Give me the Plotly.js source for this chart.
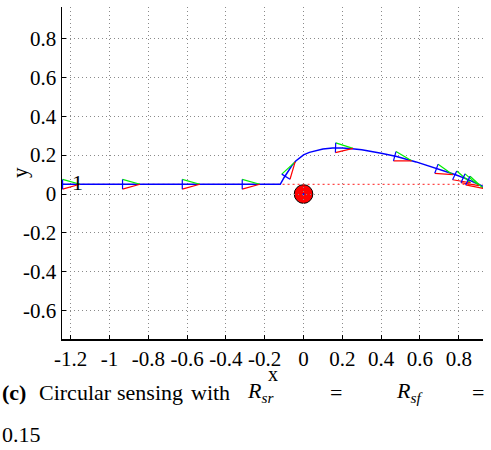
<!DOCTYPE html>
<html>
<head>
<meta charset="utf-8">
<script src="https://cdn.plot.ly/plotly-3.0.1.min.js"></script>
<style>html,body{margin:0;padding:0;background:#fff;}#chart{width:491px;height:450px;}</style>
</head>
<body>
<div id="chart"></div>
<script>
// Path of the vehicle
var pathX = [-1.242, -0.12, -0.10, -0.08, -0.06, -0.04, -0.02, 0.0, 0.03, 0.06, 0.10, 0.15, 0.20, 0.25, 0.30, 0.40, 0.48, 0.58, 0.685, 0.78, 0.84, 0.925];
var pathY = [0.05, 0.05, 0.085, 0.118, 0.146, 0.170, 0.188, 0.201, 0.214, 0.223, 0.231, 0.236, 0.237, 0.233, 0.227, 0.210, 0.193, 0.165, 0.132, 0.100, 0.078, 0.04];
// Reference line
var refX = [-1.242, 0.925];
var refY = [0.05, 0.05];
// Poses (triangles)
var poseX = [-1.242, -0.933, -0.625, -0.316, -0.091, 0.165, 0.470, 0.685, 0.779, 0.822, 0.847];
var poseY = [0.05, 0.05, 0.05, 0.05, 0.089, 0.238, 0.194, 0.130, 0.096, 0.081, 0.069];
var poseTheta = [0, 0, 0, 0, 58, -2, -15, -20, -25, -25, -27];
// Obstacle
var obsX = [0];
var obsY = [0];
var obsR = [0.048];
// Label
var labelX = [-1.165];
var labelY = [0.05];
var labelText = ['1'];
// Ticks
var xTicks = [-1.2, -1, -0.8, -0.6, -0.4, -0.2, 0, 0.2, 0.4, 0.6, 0.8];
var xTickText = ['-1.2', '-1', '-0.8', '-0.6', '-0.4', '-0.2', '0', '0.2', '0.4', '0.6', '0.8'];
var yTicks = [-0.6, -0.4, -0.2, 0, 0.2, 0.4, 0.6, 0.8];
var yTickText = ['-0.6', '-0.4', '-0.2', '0', '0.2', '0.4', '0.6', '0.8'];
// Caption pieces
var capLine1 = ['<b>(c)</b>', 'Circular', 'sensing', 'with', '<i>R</i><sub><i>sr</i></sub>', '=', '<i>R</i><sub><i>sf</i></sub>', '='];
var capLine1Px = [0, 37, 115, 189, 245, 328, 394, 470];
var capLine2 = ['0.15'];

var HW = 0.025, LEN = 0.09;
var bx = [], by = [], gx = [], gy = [], rx = [], ry = [];
for (var i = 0; i < poseX.length; i++) {
  var t = poseTheta[i] * Math.PI / 180;
  var cx = poseX[i], cy = poseY[i];
  var nx = -Math.sin(t), ny = Math.cos(t);
  var topX = cx + HW * nx, topY = cy + HW * ny;
  var botX = cx - HW * nx, botY = cy - HW * ny;
  var tipX = cx + LEN * Math.cos(t), tipY = cy + LEN * Math.sin(t);
  bx.push(topX, botX, null); by.push(topY, botY, null);
  gx.push(topX, tipX, null); gy.push(topY, tipY, null);
  rx.push(botX, tipX, null); ry.push(botY, tipY, null);
}

var F = 'Liberation Serif';
var traces = [
  {x: refX, y: refY, mode: 'lines', line: {color: 'rgba(255,40,40,0.85)', width: 1.2, dash: '2px,3px'}, hoverinfo: 'skip'},
  {x: pathX, y: pathY, mode: 'lines', line: {color: '#0000ff', width: 1.5}, hoverinfo: 'skip'},
  {x: gx, y: gy, mode: 'lines', line: {color: '#00ee00', width: 1.2}, hoverinfo: 'skip'},
  {x: rx, y: ry, mode: 'lines', line: {color: '#ff0000', width: 1.2}, hoverinfo: 'skip'},
  {x: bx, y: by, mode: 'lines', line: {color: '#0000ff', width: 1.2}, hoverinfo: 'skip'},
  {x: obsX, y: obsY, mode: 'markers', marker: {color: '#0000ff', size: 2}, hoverinfo: 'skip'},
  {x: labelX, y: labelY, mode: 'text', text: labelText, textposition: 'middle center', textfont: {family: F, size: 22, color: '#000'}, hoverinfo: 'skip'}
];

var shapes = [];
for (var k = 0; k < obsX.length; k++) {
  shapes.push({type: 'circle', xref: 'x', yref: 'y', x0: obsX[k] - obsR[k], x1: obsX[k] + obsR[k], y0: obsY[k] - obsR[k], y1: obsY[k] + obsR[k], fillcolor: '#ff0000', line: {color: '#000', width: 1}, layer: 'below'});
}

var PW = 421, PH = 332, ML = 62, PB = 339;
function px2x(p) { return (p - ML) / PW; }
function py2y(p) { return (PB - p) / PH; }

var annotations = [];
for (var j = 0; j < capLine1.length; j++) {
  annotations.push({xref: 'paper', yref: 'paper', x: px2x(capLine1Px[j]), y: py2y(392), xanchor: 'left', yanchor: 'middle', showarrow: false,
    text: capLine1[j], font: {family: F, size: 22, color: '#000'}});
}
annotations.push({xref: 'paper', yref: 'paper', x: px2x(0), y: py2y(434), xanchor: 'left', yanchor: 'middle', showarrow: false,
  text: capLine2[0], font: {family: F, size: 22, color: '#000'}});
annotations.push({xref: 'paper', yref: 'paper', x: 0.5, y: py2y(374), xanchor: 'center', yanchor: 'middle', showarrow: false,
  text: 'x', font: {family: F, size: 20, color: '#000'}});
annotations.push({xref: 'paper', yref: 'paper', x: px2x(20), y: py2y(173), xanchor: 'center', yanchor: 'middle', showarrow: false, textangle: -90,
  text: 'y', font: {family: F, size: 21, color: '#000'}});

var axisCommon = {
  showgrid: true, gridcolor: '#8a8a8a', griddash: '1px,3px', gridwidth: 1,
  zeroline: false, showline: true, linecolor: '#000', linewidth: 1.5,
  ticks: 'inside', ticklen: 4, tickcolor: '#000', tickwidth: 1,
  tickfont: {family: F, size: 21, color: '#000'}
};

var layout = {
  width: 491, height: 450,
  margin: {l: 62, r: 8, t: 7, b: 111},
  paper_bgcolor: '#fff', plot_bgcolor: '#fff',
  showlegend: false,
  font: {family: F, size: 21, color: '#000'},
  xaxis: Object.assign({range: [-1.245, 0.925], tickvals: xTicks, ticktext: xTickText, tickangle: 0}, axisCommon),
  yaxis: Object.assign({range: [-0.745, 0.961], tickvals: yTicks, ticktext: yTickText}, axisCommon),
  shapes: shapes,
  annotations: annotations
};

Plotly.newPlot('chart', traces, layout, {displayModeBar: false, staticPlot: true});
</script>
</body>
</html>
